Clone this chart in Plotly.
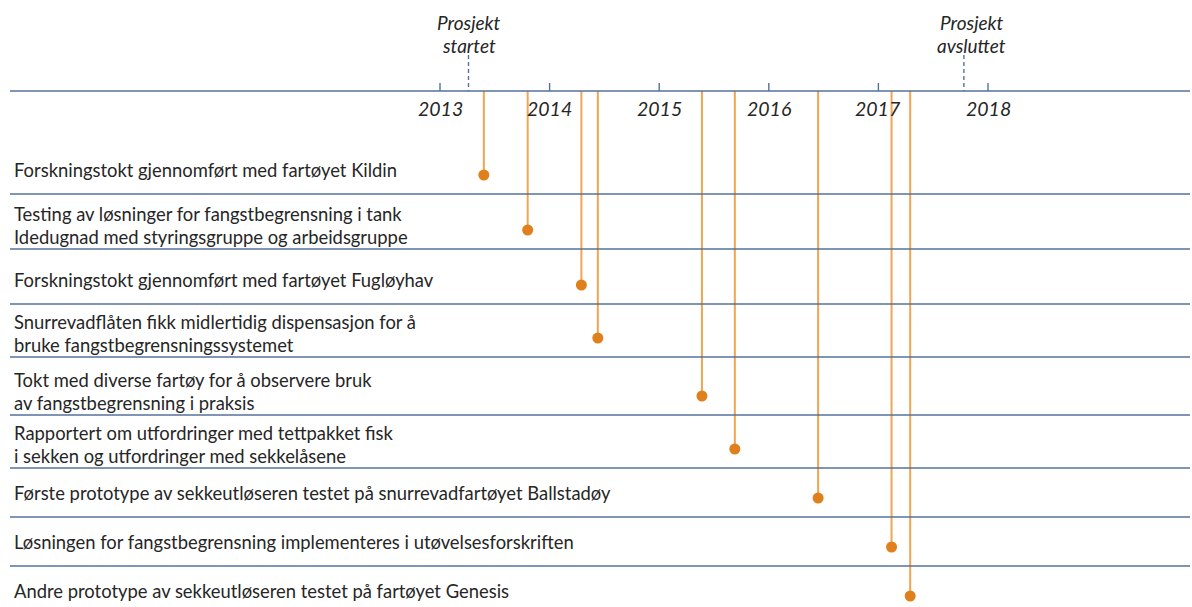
import plotly.graph_objects as go

# ---- data ----
years = [2013, 2014, 2015, 2016, 2017, 2018]
event_dates = [2013.40, 2013.80, 2014.29, 2014.44, 2015.39, 2015.69, 2016.45, 2017.12, 2017.29]
event_labels = [
    ["Forskningstokt gjennomført med fartøyet Kildin"],
    ["Testing av løsninger for fangstbegrensning i tank", "Idedugnad med styringsgruppe og arbeidsgruppe"],
    ["Forskningstokt gjennomført med fartøyet Fugløyhav"],
    ["Snurrevadflåten fikk midlertidig dispensasjon for å", "bruke fangstbegrensningssystemet"],
    ["Tokt med diverse fartøy for å observere bruk", "av fangstbegrensning i praksis"],
    ["Rapportert om utfordringer med tettpakket fisk", "i sekken og utfordringer med sekkelåsene"],
    ["Første prototype av sekkeutløseren testet på snurrevadfartøyet Ballstadøy"],
    ["Løsningen for fangstbegrensning implementeres i utøvelsesforskriften"],
    ["Andre prototype av sekkeutløseren testet på fartøyet Genesis"],
]
milestone_dates = [2013.26, 2017.78]
milestone_labels = [["Prosjekt", "startet"], ["Prosjekt", "avsluttet"]]

# ---- layout constants (pixels) ----
W, H = 1192, 607
PX_PER_YEAR = 109.6
X0_PIX = 440.0  # pixel of first year
axis_y = 91
row_bottoms = [194, 249, 304, 357, 415, 468, 517, 566, 615]
milestone_label_shift_px = [0, 8]
AX_COL = "#56719A"
TXT_COL = "#262626"
LINE_COL = "#F0A552"
DOT_COL = "#E0801C"
FONT = "Lato"

xr = [years[0] - X0_PIX / PX_PER_YEAR, years[0] + (W - X0_PIX) / PX_PER_YEAR]

fig = go.Figure()
shapes = []
annotations = []

# main axis line + row separators
for yb in [axis_y] + row_bottoms[:-1]:
    shapes.append(dict(type="line", xref="paper", yref="y", x0=10 / W, x1=1190 / W,
                       y0=yb, y1=yb, line=dict(color=AX_COL, width=1.6)))

# year ticks and labels
for yr in years:
    shapes.append(dict(type="line", xref="x", yref="y", x0=yr, x1=yr, y0=axis_y - 8, y1=axis_y,
                       line=dict(color=AX_COL, width=1.4)))
    annotations.append(dict(x=yr, y=108, xref="x", yref="y", text=f"<i>{yr}</i>", showarrow=False,
                            xanchor="center", yanchor="middle",
                            font=dict(family=FONT, size=19.5, color=TXT_COL)))

# milestones
for d, lab, sh in zip(milestone_dates, milestone_labels, milestone_label_shift_px):
    shapes.append(dict(type="line", xref="x", yref="y", x0=d, x1=d, y0=55, y1=axis_y,
                       line=dict(color=AX_COL, width=1.4, dash="4px,3px")))
    for i, t in enumerate(lab):
        annotations.append(dict(x=d + sh / PX_PER_YEAR, y=22 + 23 * i, xref="x", yref="y",
                                text=f"<i>{t}</i>", showarrow=False, xanchor="center", yanchor="middle",
                                font=dict(family=FONT, size=19, color=TXT_COL)))

# events
for d, lab, yb in zip(event_dates, event_labels, row_bottoms):
    dot_y = yb - 19
    fig.add_trace(go.Scatter(x=[d, d], y=[axis_y, dot_y], mode="lines",
                             line=dict(color=LINE_COL, width=2), hoverinfo="skip", showlegend=False))
    fig.add_trace(go.Scatter(x=[d], y=[dot_y], mode="markers",
                             marker=dict(color=DOT_COL, size=11), showlegend=False))
    n = len(lab)
    center = yb - 24
    for i, t in enumerate(lab):
        ty = center + (i - (n - 1) / 2) * 23
        annotations.append(dict(x=12 / W, y=ty, xref="paper", yref="y", text=t, showarrow=False,
                                xanchor="left", yanchor="middle",
                                font=dict(family=FONT, size=18.4, color=TXT_COL)))

fig.update_layout(
    width=W, height=H, margin=dict(l=0, r=0, t=0, b=0),
    paper_bgcolor="white", plot_bgcolor="white",
    xaxis=dict(range=xr, visible=False, fixedrange=True),
    yaxis=dict(range=[H, 0], visible=False, fixedrange=True),
    shapes=shapes, annotations=annotations, showlegend=False,
)
fig.write_html("out.html", config={"displayModeBar": False},
               post_script="document.body.style.margin='0';document.body.style.overflow='hidden';")
